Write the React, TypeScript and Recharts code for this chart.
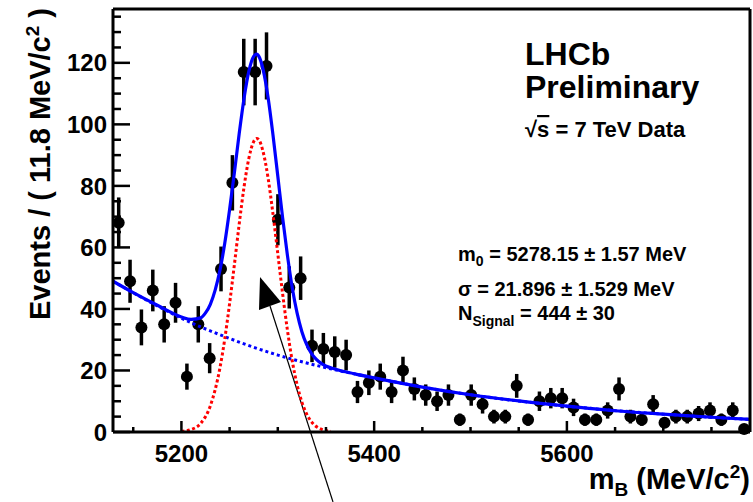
import React from 'react';
import {
  ComposedChart,
  Scatter,
  Line,
  XAxis,
  YAxis,
  ErrorBar,
  Customized,
} from 'recharts';

// binning: 56 bins of 11.8 MeV/c^2
const X_MIN = 5129;
const X_MAX = 5789.8;
const Y_MAX = 137.5;

const massBins = [
  5134.9, 5146.7, 5158.5, 5170.3, 5182.1, 5193.9, 5205.7, 5217.5, 5229.3, 5241.1,
  5252.9, 5264.7, 5276.5, 5288.3, 5300.1, 5311.9, 5323.7, 5335.5, 5347.3, 5359.1,
  5370.9, 5382.7, 5394.5, 5406.3, 5418.1, 5429.9, 5441.7, 5453.5, 5465.3, 5477.1,
  5488.9, 5500.7, 5512.5, 5524.3, 5536.1, 5547.9, 5559.7, 5571.5, 5583.3, 5595.1,
  5606.9, 5618.7, 5630.5, 5642.3, 5654.1, 5665.9, 5677.7, 5689.5, 5701.3, 5713.1,
  5724.9, 5736.7, 5748.5, 5760.3, 5772.1, 5783.9,
];

const counts = [
  68, 49, 34, 46, 35, 42, 18, 35, 24, 53,
  81, 117, 117, 119, 69, 47, 50, 28, 27, 26,
  25, 13, 16, 18, 13, 20, 14, 12, 10, 12,
  4, 12, 9, 5, 5, 15, 4, 10, 11, 11,
  8, 4, 4, 7, 14, 5, 4, 9, 3, 5,
  5, 6, 7, 4, 7, 1,
];

// fit curves
const totalMass = [
  5129, 5150, 5175, 5200, 5210, 5220, 5225, 5230, 5235, 5240, 5245, 5250, 5255, 5260,
  5265, 5270, 5275, 5278, 5280, 5285, 5290, 5295, 5300, 5305, 5310, 5315, 5320, 5325,
  5330, 5335, 5340, 5345, 5360, 5380, 5400, 5450, 5500, 5550, 5600, 5650, 5700, 5750, 5790,
];
const totalValues = [
  49.0, 45.3, 41.2, 37.4, 36.6, 37.1, 38.7, 41.5, 46.1, 52.6, 61.4, 72.3, 84.4, 97.1,
  108.5, 117.3, 122.1, 122.8, 122.3, 117.5, 108.6, 96.6, 83.2, 69.7, 57.4, 46.9, 38.7, 32.6,
  28.4, 25.5, 23.6, 22.3, 20.4, 18.9, 17.6, 14.6, 12.1, 10.1, 8.4, 6.9, 5.8, 4.8, 4.1,
];

const bkgMass = [5129, 5175, 5200, 5250, 5300, 5350, 5400, 5450, 5500, 5600, 5700, 5790];
const bkgValues = [49.0, 41.0, 37.0, 30.4, 25.0, 20.9, 17.6, 14.6, 12.1, 8.4, 5.8, 4.1];

const sigMass = [
  5200, 5210, 5220, 5230, 5240, 5245, 5250, 5255, 5260, 5265, 5270, 5275, 5278, 5280,
  5285, 5290, 5295, 5300, 5305, 5310, 5315, 5320, 5325, 5330, 5335, 5345, 5355,
];
const sigValues = [
  0.2, 0.8, 2.8, 8.5, 20.9, 30.3, 41.8, 54.5, 67.7, 79.7, 89.0, 94.4, 95.4, 95.1,
  90.8, 82.4, 70.9, 58.0, 45.0, 33.1, 23.1, 15.4, 9.7, 5.8, 3.3, 0.9, 0.2,
];

const xTicks = [5150, 5200, 5250, 5300, 5350, 5400, 5450, 5500, 5550, 5600, 5650, 5700, 5750];
const xLabels = [5200, 5400, 5600];
const yTicks = [
  0, 5, 10, 15, 20, 25, 30, 35, 40, 45, 50, 55, 60, 65, 70, 75, 80, 85, 90, 95,
  100, 105, 110, 115, 120, 125, 130, 135,
];
const yLabels = [0, 20, 40, 60, 80, 100, 120];

const points = massBins.map((m, i) => ({ m, n: counts[i], err: Math.sqrt(counts[i]) }));
const totalFit = totalMass.map((m, i) => ({ m, v: totalValues[i] }));
const bkgFit = bkgMass.map((m, i) => ({ m, v: bkgValues[i] }));
const sigFit = sigMass.map((m, i) => ({ m, v: sigValues[i] }));

const FONT = '"Liberation Sans", Arial, Helvetica, sans-serif';
const BLUE = '#0000ff';
const RED = '#ff0000';

const BottomTick = (props: any) => {
  const { x, y, payload } = props;
  const major = xLabels.includes(payload.value);
  return (
    <g>
      <line x1={x} y1={y} x2={x} y2={y - (major ? 11 : 5)} stroke="#000" strokeWidth={2.5} />
      {major && (
        <text x={x} y={y + 30} textAnchor="middle" fontFamily={FONT} fontWeight="bold" fontSize={24} fill="#000">
          {payload.value}
        </text>
      )}
    </g>
  );
};

const TopTick = (props: any) => {
  const { x, y, payload } = props;
  const major = xLabels.includes(payload.value);
  return <line x1={x} y1={y} x2={x} y2={y + (major ? 12 : 5)} stroke="#000" strokeWidth={2.5} />;
};

const LeftTick = (props: any) => {
  const { x, y, payload } = props;
  const major = yLabels.includes(payload.value);
  return (
    <g>
      <line x1={x} y1={y} x2={x + (major ? 17 : 8)} y2={y} stroke="#000" strokeWidth={2.5} />
      {major && (
        <text x={x - 6} y={y} dy="0.36em" textAnchor="end" fontFamily={FONT} fontWeight="bold" fontSize={24} fill="#000">
          {payload.value}
        </text>
      )}
    </g>
  );
};

const RightTick = (props: any) => {
  const { x, y, payload } = props;
  const major = yLabels.includes(payload.value);
  return <line x1={x} y1={y} x2={x - (major ? 17 : 8)} y2={y} stroke="#000" strokeWidth={2.5} />;
};

const Dot = (props: any) => <circle cx={props.cx} cy={props.cy} r={6} fill="#000" />;

const Annotations = () => (
  <g fontFamily={FONT} fontWeight="bold" fill="#000">
    <text x={50} y={8} transform="rotate(-90 50 8)" textAnchor="end" fontSize={29}>
      Events / ( 11.8 MeV/c<tspan dy={-11} fontSize={19}>2</tspan>
      <tspan dy={11}> )</tspan>
    </text>
    <text x={750} y={489} textAnchor="end" fontSize={29}>
      m<tspan dy={7} fontSize={19}>B</tspan>
      <tspan dy={-7}> (MeV/c</tspan>
      <tspan dy={-11} fontSize={19}>2</tspan>
      <tspan dy={11}>)</tspan>
    </text>
    <text x={525} y={65} fontSize={32}>LHCb</text>
    <text x={525} y={98} fontSize={32}>Preliminary</text>
    <text x={525} y={137} fontSize={22}>
      √<tspan style={{ textDecoration: 'overline' }}>s</tspan> = 7 TeV Data
    </text>
    <text x={458} y={261} fontSize={20}>
      m<tspan dy={5} fontSize={14}>0</tspan>
      <tspan dy={-5}> = 5278.15 ± 1.57 MeV</tspan>
    </text>
    <text x={458} y={296} fontSize={20}>σ = 21.896 ± 1.529 MeV</text>
    <text x={458} y={320} fontSize={20}>
      N<tspan dy={6} fontSize={14}>Signal</tspan>
      <tspan dy={-6}> = 444 ± 30</tspan>
    </text>
    <line x1={270} y1={306} x2={333} y2={502} stroke="#000" strokeWidth={1.2} />
    <polygon points="260,277 281,302 259,310" fill="#000" />
  </g>
);

export default function App() {
  return (
    <div style={{ position: 'absolute', left: 0, top: 0, background: '#fff' }}>
      <ComposedChart width={753} height={502} margin={{ top: 0, right: 0, bottom: 0, left: 0 }}>
        <XAxis
          dataKey="m"
          type="number"
          domain={[X_MIN, X_MAX]}
          ticks={xTicks}
          interval={0}
          tick={BottomTick}
          tickLine={false}
          tickSize={0}
          tickMargin={0}
          height={70}
          axisLine={{ stroke: '#000', strokeWidth: 3 }}
        />
        <XAxis
          xAxisId="top"
          orientation="top"
          dataKey="m"
          type="number"
          domain={[X_MIN, X_MAX]}
          ticks={xTicks}
          interval={0}
          tick={TopTick}
          tickLine={false}
          tickSize={0}
          tickMargin={0}
          height={9}
          axisLine={{ stroke: '#000', strokeWidth: 3 }}
        />
        <YAxis
          type="number"
          domain={[0, Y_MAX]}
          ticks={yTicks}
          interval={0}
          tick={LeftTick}
          tickLine={false}
          tickSize={0}
          tickMargin={0}
          width={113}
          axisLine={{ stroke: '#000', strokeWidth: 3 }}
        />
        <YAxis
          yAxisId="right"
          orientation="right"
          type="number"
          domain={[0, Y_MAX]}
          ticks={yTicks}
          interval={0}
          tick={RightTick}
          tickLine={false}
          tickSize={0}
          tickMargin={0}
          width={3}
          axisLine={{ stroke: '#000', strokeWidth: 3 }}
        />
        <Scatter data={points} dataKey="n" shape={Dot} isAnimationActive={false} zIndex={300}>
          <ErrorBar dataKey="err" direction="y" width={0} stroke="#000" strokeWidth={3.5} isAnimationActive={false} />
        </Scatter>
        <Line
          data={bkgFit}
          dataKey="v"
          type="monotone"
          dot={false}
          stroke={BLUE}
          strokeWidth={3}
          strokeDasharray="3 3"
          isAnimationActive={false}
        />
        <Line
          data={sigFit}
          dataKey="v"
          type="monotone"
          dot={false}
          stroke={RED}
          strokeWidth={3}
          strokeDasharray="3 2.5"
          isAnimationActive={false}
        />
        <Line
          data={totalFit}
          dataKey="v"
          type="monotone"
          dot={false}
          stroke={BLUE}
          strokeWidth={3.2}
          isAnimationActive={false}
        />
        <Customized component={Annotations} />
      </ComposedChart>
    </div>
  );
}
